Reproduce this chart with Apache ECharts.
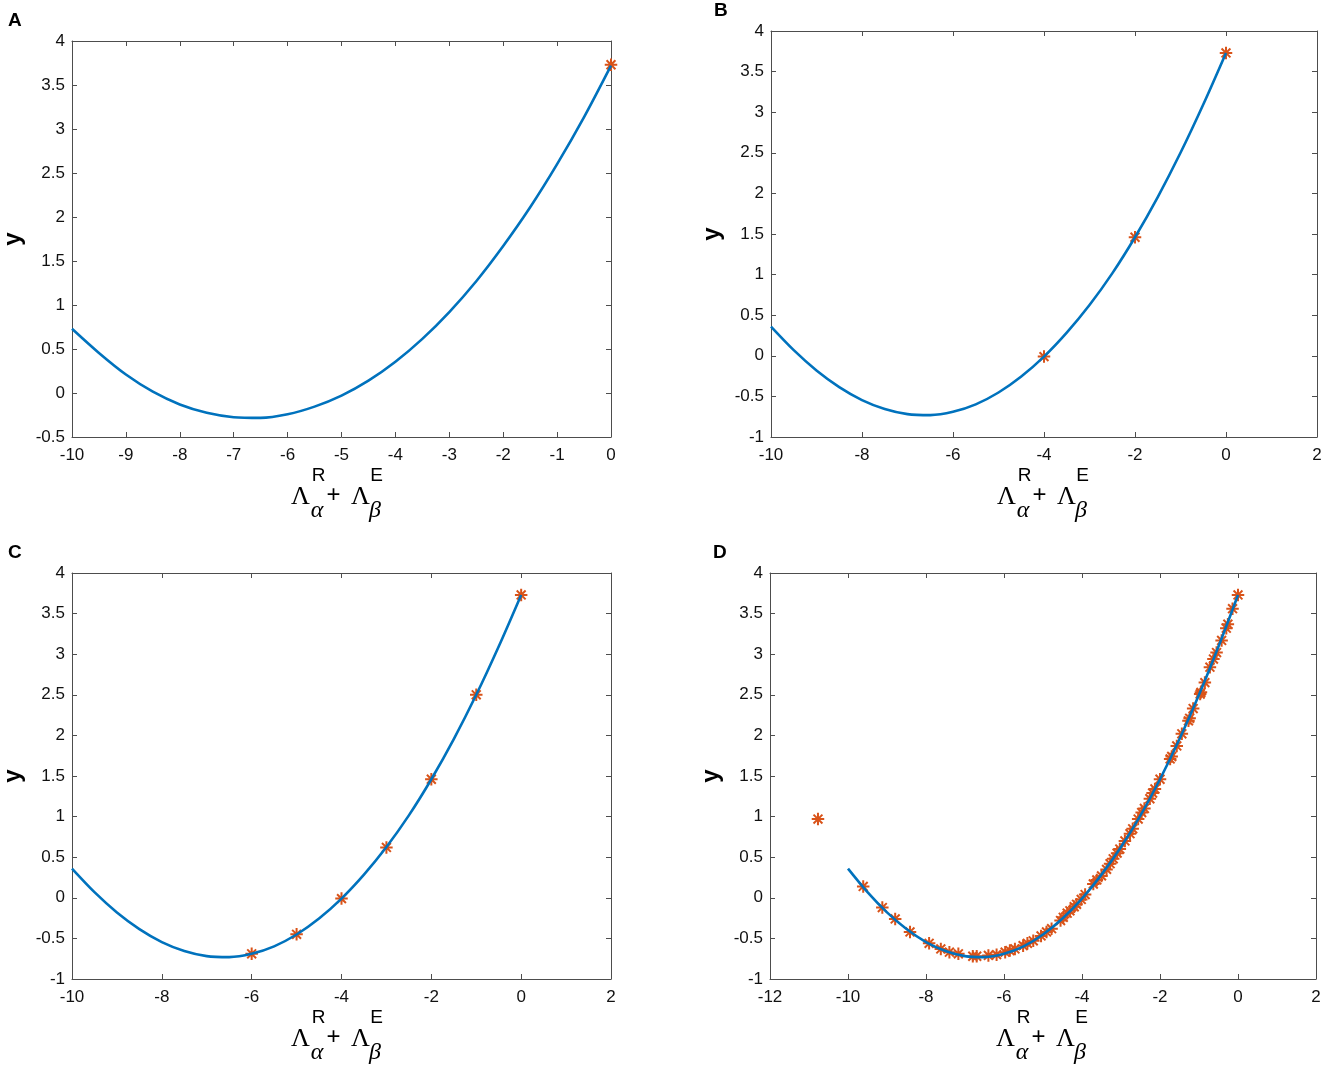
<!DOCTYPE html>
<html>
<head>
<meta charset="utf-8">
<script src="https://cdn.jsdelivr.net/npm/echarts@6/dist/echarts.min.js"></script>
<style>
html, body { margin: 0; padding: 0; background: #fff; }
#main { width: 1325px; height: 1067px; }
</style>
</head>
<body>
<div id="main"></div>
<script>
// panel A curve
var curveAX = [-10, -9.5, -9, -8.5, -8, -7.5, -7, -6.5, -6, -5.5, -5, -4.5, -4, -3.5, -3, -2.5, -2, -1.5, -1, -0.5, 0]
var curveAY = [0.73, 0.455, 0.21, 0.015, -0.13, -0.225, -0.275, -0.283, -0.242, -0.155, -0.03, 0.14, 0.355, 0.615, 0.92, 1.27, 1.67, 2.11, 2.60, 3.135, 3.72]

// curve used in panels B, C, D
var curveX = [-10, -9.5, -9, -8.5, -8, -7.5, -7, -6.5, -6, -5.5, -5, -4.5, -4, -3.5, -3, -2.5, -2, -1.5, -1, -0.5, 0]
var curveY = [0.36, 0.07, -0.18, -0.385, -0.545, -0.655, -0.718, -0.73, -0.69, -0.598, -0.452, -0.255, -0.01, 0.285, 0.625, 1.015, 1.46, 1.955, 2.50, 3.095, 3.73]

// asterisk markers
var markAX = [0]
var markAY = [3.73]
var markBX = [-4, -2, 0]
var markBY = [-0.01, 1.46, 3.73]
var markCX = [-6, -5, -4, -3, -2, -1, 0]
var markCY = [-0.69, -0.45, -0.01, 0.62, 1.46, 2.50, 3.73]
var markDX = [-10.77, -9.61, -9.12, -8.79, -8.41, -7.92, -7.62, -7.40, -7.17, -6.80, -6.70, -6.40, -6.19, -5.97, -5.85, -5.72, -5.51, -5.40, -5.25, -5.05,
	-4.91, -4.78, -4.55, -4.48, -4.38, -4.31, -4.20, -4.14, -4.02, -3.92, -3.71, -3.62, -3.50, -3.37, -3.28, -3.20, -3.10, -3.03, -2.90, -2.77,
	-2.70, -2.56, -2.47, -2.40, -2.26, -2.19, -2.13, -2.00, -1.74, -1.70, -1.57, -1.44, -1.27, -1.24, -1.15, -0.97, -0.95, -0.85, -0.72, -0.63,
	-0.55, -0.42, -0.30, -0.26, -0.14, 0.00]
var markDY = [0.97, 0.14, -0.12, -0.26, -0.42, -0.56, -0.63, -0.67, -0.69, -0.72, -0.72, -0.71, -0.70, -0.67, -0.65, -0.63, -0.59, -0.56, -0.53, -0.47,
	-0.42, -0.38, -0.28, -0.24, -0.19, -0.16, -0.11, -0.08, -0.02, 0.04, 0.17, 0.22, 0.27, 0.35, 0.42, 0.48, 0.55, 0.60, 0.70, 0.79,
	0.85, 0.97, 1.05, 1.10, 1.22, 1.29, 1.34, 1.46, 1.71, 1.74, 1.87, 2.02, 2.18, 2.21, 2.33, 2.51, 2.53, 2.65, 2.84, 2.94,
	3.02, 3.17, 3.32, 3.37, 3.56, 3.73]

// axis ranges
var panelLetters = ['A', 'B', 'C', 'D']
var xMin = [-10, -10, -10, -12]
var xMax = [0, 2, 2, 2]
var xStep = [1, 2, 2, 2]
var yMin = [-0.5, -1, -1, -1]
var yMax = [4, 4, 4, 4]

function pairs(xs, ys) {
	var arr = []
	for(var i = 0; i < xs.length; i ++) arr.push([xs[i], ys[i]])
	return arr
}

var chart = echarts.init(document.getElementById('main'))

var grids = [
	{left: 65, top: 41, width: 546, height: 396},
	{left: 771, top: 31, width: 546, height: 406},
	{left: 65, top: 573, width: 546, height: 406},
	{left: 770, top: 573, width: 546, height: 406}
]
var curves = [pairs(curveAX, curveAY), pairs(curveX, curveY), pairs(curveX, curveY), pairs(curveX, curveY)]
var marks = [pairs(markAX, markAY), pairs(markBX, markBY), pairs(markCX, markCY), pairs(markDX, markDY)]

var axisColor = '#4d4d4d'
var textColor = '#111'
var sans = 'Liberation Sans, Arial, sans-serif'
var serif = 'Liberation Serif, Times New Roman, serif'
var asterisk = 'path://M0,-10L0,10M-10,0L10,0M-7.1,-7.1L7.1,7.1M-7.1,7.1L7.1,-7.1'

var xAxes = [], yAxes = [], series = [], graphics = []

for(var p = 0; p < 4; p ++) {
	var g = grids[p]
	xAxes.push({
		gridIndex: p, type: 'value', position: 'bottom',
		min: xMin[p], max: xMax[p], interval: xStep[p],
		axisLine: {show: true, onZero: false, lineStyle: {color: axisColor, width: 1}},
		axisTick: {show: true, inside: true, length: 5, lineStyle: {color: axisColor}},
		axisLabel: {fontSize: 17, color: textColor, fontFamily: sans, margin: 10},
		splitLine: {show: false}
	})
	xAxes.push({
		gridIndex: p, type: 'value', position: 'top',
		min: xMin[p], max: xMax[p], interval: xStep[p],
		axisLine: {show: true, onZero: false, lineStyle: {color: axisColor, width: 1}},
		axisTick: {show: true, inside: true, length: 5, lineStyle: {color: axisColor}},
		axisLabel: {show: false},
		splitLine: {show: false}
	})
	yAxes.push({
		gridIndex: p, type: 'value', position: 'left',
		min: yMin[p], max: yMax[p], interval: 0.5,
		name: 'y', nameLocation: 'middle', nameGap: 47, nameRotate: 90,
		nameTextStyle: {fontSize: 24, fontWeight: 'bold', color: '#000', fontFamily: sans},
		axisLine: {show: true, onZero: false, lineStyle: {color: axisColor, width: 1}},
		axisTick: {show: true, inside: true, length: 5, lineStyle: {color: axisColor}},
		axisLabel: {fontSize: 17, color: textColor, fontFamily: sans, margin: 7},
		splitLine: {show: false}
	})
	yAxes.push({
		gridIndex: p, type: 'value', position: 'right',
		min: yMin[p], max: yMax[p], interval: 0.5,
		axisLine: {show: true, onZero: false, lineStyle: {color: axisColor, width: 1}},
		axisTick: {show: true, inside: true, length: 5, lineStyle: {color: axisColor}},
		axisLabel: {show: false},
		splitLine: {show: false}
	})
	series.push({
		type: 'line', xAxisIndex: p * 2, yAxisIndex: p * 2,
		data: curves[p], smooth: 0.3, showSymbol: false,
		lineStyle: {color: '#0072BD', width: 2.6}
	})
	series.push({
		type: 'scatter', xAxisIndex: p * 2, yAxisIndex: p * 2,
		data: marks[p], symbol: asterisk, symbolSize: 12.5,
		itemStyle: {color: 'rgba(0,0,0,0)', borderColor: '#D95319', borderWidth: 2, opacity: 1}
	})

	// panel letter
	graphics.push({
		type: 'text', left: g.left - 57, top: g.top - 30,
		style: {text: panelLetters[p], font: 'bold 19px ' + sans, fill: '#000'}
	})

	// x axis label  Λ^R_α + Λ^E_β
	var cx = g.left + g.width / 2, by = g.top + g.height
	var parts = [
		{t: '\u039B', dx: -37.6, dy: 60.5, f: '26px ' + serif},
		{t: 'R', dx: -19.5, dy: 38.5, f: '19px ' + sans},
		{t: '\u03B1', dx: -21, dy: 73.5, f: 'italic 24px ' + serif},
		{t: '+', dx: -4.6, dy: 58.5, f: '24px ' + sans},
		{t: '\u039B', dx: 22.4, dy: 60.5, f: '26px ' + serif},
		{t: 'E', dx: 38.7, dy: 38.5, f: '19px ' + sans},
		{t: '\u03B2', dx: 37, dy: 73.5, f: 'italic 24px ' + serif}
	]
	for(var k = 0; k < parts.length; k ++) {
		graphics.push({
			type: 'text', x: cx + parts[k].dx, y: by + parts[k].dy,
			style: {text: parts[k].t, font: parts[k].f, fill: '#000', textAlign: 'center', textVerticalAlign: 'middle'}
		})
	}
}

chart.setOption({
	backgroundColor: '#fff',
	animation: false,
	grid: grids,
	xAxis: xAxes,
	yAxis: yAxes,
	series: series,
	graphic: graphics
})
</script>
</body>
</html>
